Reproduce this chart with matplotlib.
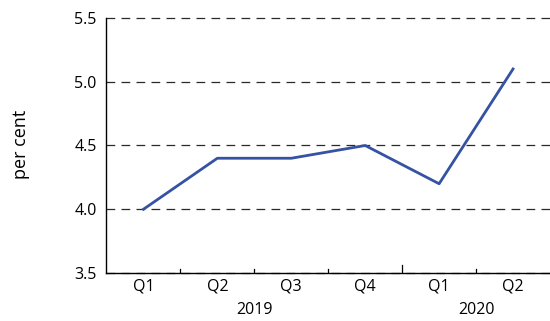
import matplotlib.pyplot as plt
import numpy as np

quarters = ['Q1', 'Q2', 'Q3', 'Q4', 'Q1', 'Q2']
years = ['2019', '2020']
year_pos = [1.5, 4.5]
values = [4.0, 4.4, 4.4, 4.5, 4.2, 5.1]

plt.rcParams['font.family'] = ['Open Sans', 'DejaVu Sans']

fig = plt.figure(figsize=(5.5, 3.21), dpi=100)
ax = fig.add_axes([0.1936, 0.1495, 0.8064, 0.7945])

x = np.arange(len(values))
ax.plot(x, values, color='#3552a3', linewidth=2.0, zorder=3)

ax.set_xlim(-0.5, 5.5)
ax.set_ylim(3.5, 5.5)
ax.set_yticks([3.5, 4.0, 4.5, 5.0, 5.5])
ax.set_yticklabels(['3.5', '4.0', '4.5', '5.0', '5.5'], fontsize=11.5)
ax.tick_params(axis='y', length=0, pad=7)
for yv in [3.5, 4.0, 4.5, 5.0, 5.5]:
    ax.axhline(yv, color='#2a2a2a', linewidth=0.9, dashes=(7, 5), zorder=2, clip_on=False)

ax.set_xticks(x)
ax.set_xticklabels(quarters, fontsize=11.5)
ax.tick_params(axis='x', length=0, pad=4)

# boundary ticks between quarters, longer one between years
for b in [0.5, 1.5, 2.5, 4.5]:
    ax.plot([b, b], [3.5, 3.5 + 0.032], color='black', linewidth=0.9, zorder=2)
ax.plot([3.5, 3.5], [3.5, 3.5 + 0.065], color='black', linewidth=0.9, zorder=2)

for yr, p in zip(years, year_pos):
    ax.annotate(yr, xy=(p, 0), xycoords=ax.get_xaxis_transform(),
                xytext=(0, -37), textcoords='offset pixels',
                ha='center', va='center', fontsize=11.5)

ax.spines['top'].set_visible(False)
ax.spines['right'].set_visible(False)
ax.spines['left'].set_linewidth(1.0)
ax.spines['bottom'].set_linewidth(1.0)

fig.text(0.038, 0.55, 'per cent', rotation=90, ha='center', va='center', fontsize=13)

fig.savefig('out.png', dpi=100)
